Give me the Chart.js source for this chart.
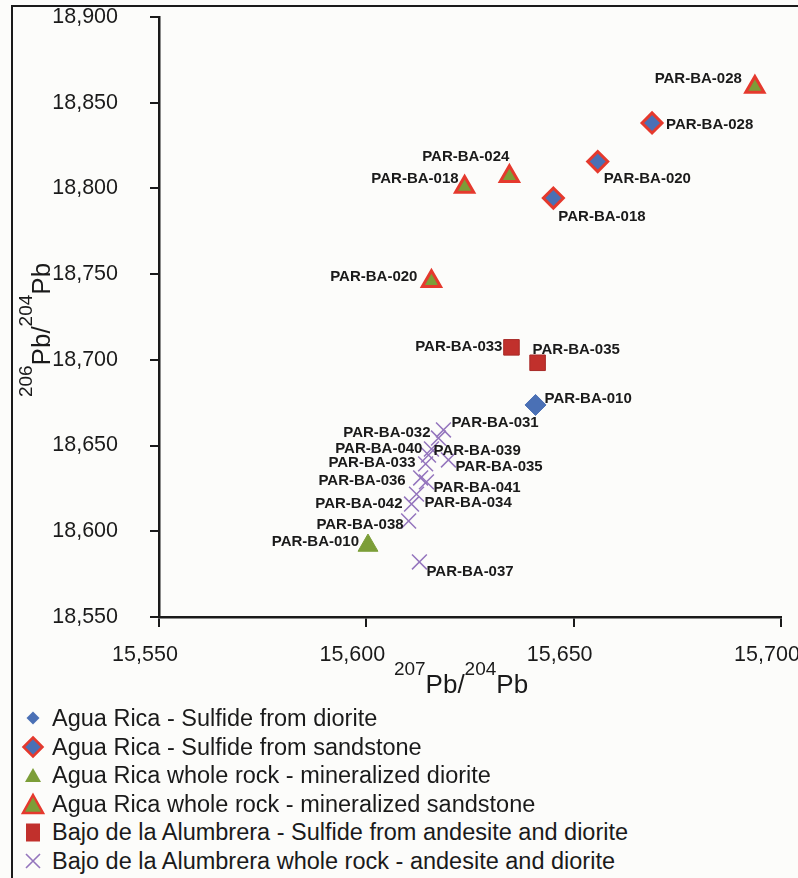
<!DOCTYPE html>
<html>
<head>
<meta charset="utf-8">
<title>Pb isotopes - Agua Rica / Bajo de la Alumbrera</title>
<script src="https://cdn.jsdelivr.net/npm/chart.js@4.4.1/dist/chart.umd.min.js"></script>
<style>
  html, body { margin: 0; padding: 0; background: #fcfcfa; overflow: hidden; }
  #wrap { position: relative; width: 798px; height: 878px; }
  #frame { position: absolute; left: 11px; top: 5px; width: 820px; height: 900px;
           border-left: 2.5px solid #1a1a1a; border-top: 2.5px solid #1a1a1a; }
  #myChart { position: absolute; left: 0; top: 0; }
  #legend { position: absolute; left: 0; top: 704px; font-family: "Liberation Sans", Arial, sans-serif;
            font-size: 23.5px; color: #1a1a1a; }
  .row { position: relative; height: 28.5px; line-height: 28.5px; white-space: nowrap; }
  .row svg { position: absolute; left: 21px; top: 2px; }
  .row span { position: absolute; left: 52px; top: 0; }
</style>
</head>
<body>
<div id="wrap">
  <div id="frame"></div>
  <canvas id="myChart" width="798" height="705"></canvas>
  <div id="legend"></div>
</div>
<script>
// axis ticks
let xTicks = [15550, 15600, 15650, 15700];
let yTicks = [18550, 18600, 18650, 18700, 18750, 18800, 18850, 18900];

// series names
let seriesNames = [
    "Agua Rica - Sulfide from diorite",
    "Agua Rica - Sulfide from sandstone",
    "Agua Rica whole rock - mineralized diorite",
    "Agua Rica whole rock - mineralized sandstone",
    "Bajo de la Alumbrera - Sulfide from andesite and diorite",
    "Bajo de la Alumbrera whole rock - andesite and diorite"
];

// 207Pb/204Pb (x), 206Pb/204Pb (y) and sample ids per series
let arSulfDioriteX = [15640.8];
let arSulfDioriteY = [18673.7];
let arSulfDioriteIds = ["PAR-BA-010"];

let arSulfSandX = [15668.9, 15655.8, 15645.1];
let arSulfSandY = [18838.2, 18815.7, 18794.4];
let arSulfSandIds = ["PAR-BA-028", "PAR-BA-020", "PAR-BA-018"];

let arWrDioriteX = [15600.4];
let arWrDioriteY = [18591.7];
let arWrDioriteIds = ["PAR-BA-010"];

let arWrSandX = [15693.7, 15634.5, 15623.7, 15615.7];
let arWrSandY = [18859.1, 18807.1, 18800.8, 18745.8];
let arWrSandIds = ["PAR-BA-028", "PAR-BA-024", "PAR-BA-018", "PAR-BA-020"];

let baSulfX = [15635.0, 15641.3];
let baSulfY = [18707.3, 18698.3];
let baSulfIds = ["PAR-BA-033", "PAR-BA-035"];

let baWrX = [15618.6, 15617.4, 15615.7, 15615.0, 15619.8, 15614.3, 15613.1, 15614.5, 15612.1, 15610.9, 15610.2, 15612.8];
let baWrY = [18659.1, 18654.4, 18648.0, 18644.5, 18641.6, 18639.3, 18631.1, 18628.8, 18621.7, 18615.9, 18606.0, 18582.1];
let baWrIds = ["PAR-BA-031", "PAR-BA-032", "PAR-BA-040", "PAR-BA-039", "PAR-BA-035", "PAR-BA-033",
               "PAR-BA-036", "PAR-BA-041", "PAR-BA-034", "PAR-BA-042", "PAR-BA-038", "PAR-BA-037"];

// label placement next to each point: [dx, dy, align]
let arSulfDioritePos = [[9, -6, "left"]];
let arSulfSandPos = [[14, 2, "left"], [6, 17, "left"], [5, 19, "left"]];
let arWrDioritePos = [[-9, -4, "right"]];
let arWrSandPos = [[-13, -8, "right"], [0, -19, "right"], [-6, -8, "right"], [-14, -4, "right"]];
let baSulfPos = [[-9, 0, "right"], [-5, -13, "left"]];
let baWrPos = [[8, -7, "left"], [-8, -5, "right"], [-9, 0, "right"], [5, -4, "left"], [7, 7, "left"],
               [-10, -1, "right"], [-15, 3, "right"], [7, 6, "left"], [8, 9, "left"], [-9, 0, "right"],
               [-5, 4, "right"], [7, 10, "left"]];

const BLUE = "#4a70b5";
const RED = "#e5392d";
const GREEN = "#7c9e38";
const SQRED = "#c1302c";
const PURPLE = "#9475bd";
const FONT = '"Liberation Sans", Arial, sans-serif';

function pts(xs, ys) {
    return xs.map((x, i) => ({ x: x, y: ys[i] }));
}

// legend marker svgs
let legendMarks = [
    '<polygon points="12,5.5 18.5,12 12,18.5 5.5,12" fill="' + BLUE + '"/>',
    '<polygon points="12,2.5 21.5,12 12,21.5 2.5,12" fill="' + BLUE + '" stroke="' + RED + '" stroke-width="2.5"/>',
    '<polygon points="12,5 20,19 4,19" fill="' + GREEN + '"/>',
    '<polygon points="12,3 22,21 2,21" fill="' + GREEN + '" stroke="' + RED + '" stroke-width="2.5"/>',
    '<rect x="5" y="3.5" width="14" height="18" fill="' + SQRED + '"/>',
    '<path d="M5,5 L19,19 M19,5 L5,19" stroke="' + PURPLE + '" stroke-width="1.6" fill="none"/>'
];

const pointLabels = {
    id: "pointLabels",
    afterDatasetsDraw(chart) {
        const ctx = chart.ctx;
        ctx.save();
        ctx.font = "bold 15px " + FONT;
        ctx.fillStyle = "#1a1a1a";
        ctx.textBaseline = "middle";
        chart.data.datasets.forEach((ds, i) => {
            chart.getDatasetMeta(i).data.forEach((pt, j) => {
                const p = ds.labelPos[j];
                ctx.textAlign = p[2];
                ctx.fillText(ds.ids[j], pt.x + p[0], pt.y + p[1]);
            });
        });
        ctx.restore();
    }
};

// "207Pb/204Pb" style titles with superscripts
function richText(ctx, parts) {
    let total = 0;
    parts.forEach(p => {
        ctx.font = p[1] + "px " + FONT;
        total += ctx.measureText(p[0]).width;
    });
    let x = -total / 2;
    parts.forEach(p => {
        ctx.font = p[1] + "px " + FONT;
        ctx.fillText(p[0], x, -p[2]);
        x += ctx.measureText(p[0]).width;
    });
}

const axisTitles = {
    id: "axisTitles",
    afterDraw(chart) {
        const ctx = chart.ctx;
        ctx.save();
        ctx.fillStyle = "#1a1a1a";
        ctx.textAlign = "left";
        ctx.textBaseline = "alphabetic";
        ctx.translate(461, 693);
        richText(ctx, [["207", 19, 18], ["Pb/", 26, 0], ["204", 19, 18], ["Pb", 26, 0]]);
        ctx.restore();

        ctx.save();
        ctx.fillStyle = "#1a1a1a";
        ctx.textAlign = "left";
        ctx.textBaseline = "alphabetic";
        ctx.translate(50, 330);
        ctx.rotate(-Math.PI / 2);
        richText(ctx, [["206", 19, 18], ["Pb/", 26, 0], ["204", 19, 18], ["Pb", 26, 0]]);
        ctx.restore();
    }
};

let myChart = document.getElementById("myChart").getContext("2d");

let scatterChart = new Chart(myChart, {
    type: "scatter",
    data: {
        datasets: [{
            label: seriesNames[0],
            data: pts(arSulfDioriteX, arSulfDioriteY),
            ids: arSulfDioriteIds, labelPos: arSulfDioritePos,
            pointStyle: "rectRot", pointRadius: 10.5,
            backgroundColor: BLUE, borderColor: BLUE, borderWidth: 1
        }, {
            label: seriesNames[1],
            data: pts(arSulfSandX, arSulfSandY),
            ids: arSulfSandIds, labelPos: arSulfSandPos,
            pointStyle: "rectRot", pointRadius: 10,
            backgroundColor: BLUE, borderColor: RED, borderWidth: 3
        }, {
            label: seriesNames[2],
            data: pts(arWrDioriteX, arWrDioriteY),
            ids: arWrDioriteIds, labelPos: arWrDioritePos,
            pointStyle: "triangle", pointRadius: 11.5,
            backgroundColor: GREEN, borderColor: GREEN, borderWidth: 1
        }, {
            label: seriesNames[3],
            data: pts(arWrSandX, arWrSandY),
            ids: arWrSandIds, labelPos: arWrSandPos,
            pointStyle: "triangle", pointRadius: 10.5,
            backgroundColor: GREEN, borderColor: RED, borderWidth: 3
        }, {
            label: seriesNames[4],
            data: pts(baSulfX, baSulfY),
            ids: baSulfIds, labelPos: baSulfPos,
            pointStyle: "rect", pointRadius: 11,
            backgroundColor: SQRED, borderColor: "#a82a27", borderWidth: 1
        }, {
            label: seriesNames[5],
            data: pts(baWrX, baWrY),
            ids: baWrIds, labelPos: baWrPos,
            pointStyle: "crossRot", pointRadius: 10.5,
            backgroundColor: PURPLE, borderColor: PURPLE, borderWidth: 1.5
        }]
    },
    options: {
        responsive: false,
        animation: false,
        layout: { padding: { left: 0, top: 17, right: 17, bottom: 0 } },
        plugins: {
            legend: { display: false },
            tooltip: { enabled: false }
        },
        scales: {
            x: {
                type: "linear",
                min: xTicks[0],
                max: xTicks[xTicks.length - 1],
                afterBuildTicks: scale => { scale.ticks = xTicks.map(v => ({ value: v })); },
                afterFit: scale => { scale.height = 88; scale.paddingLeft = 0; scale.paddingRight = 0; },
                ticks: {
                    color: "#1a1a1a",
                    font: { family: FONT, size: 21.5 },
                    padding: 15,
                    labelOffset: -14,
                    maxRotation: 0,
                    callback: v => v.toLocaleString("en-US")
                },
                grid: { drawOnChartArea: false, drawTicks: true, tickLength: 10, color: "#1a1a1a", lineWidth: 2 },
                border: { display: true, color: "#1a1a1a", width: 2.5 }
            },
            y: {
                type: "linear",
                min: yTicks[0],
                max: yTicks[yTicks.length - 1],
                afterBuildTicks: scale => { scale.ticks = yTicks.map(v => ({ value: v })); },
                afterFit: scale => { scale.width = 159; scale.paddingTop = 0; scale.paddingBottom = 0; },
                ticks: {
                    color: "#1a1a1a",
                    font: { family: FONT, size: 21.5 },
                    padding: 32,
                    callback: v => v.toLocaleString("en-US")
                },
                grid: { drawOnChartArea: false, drawTicks: true, tickLength: 9, color: "#1a1a1a", lineWidth: 2 },
                border: { display: true, color: "#1a1a1a", width: 2.5 }
            }
        }
    },
    plugins: [pointLabels, axisTitles]
});

// legend below the plot
let legendHtml = "";
scatterChart.data.datasets.forEach((ds, i) => {
    legendHtml += '<div class="row"><svg width="24" height="24" viewBox="0 0 24 24">' + legendMarks[i] +
        '</svg><span>' + ds.label + '</span></div>';
});
document.getElementById("legend").innerHTML = legendHtml;
</script>
</body>
</html>
